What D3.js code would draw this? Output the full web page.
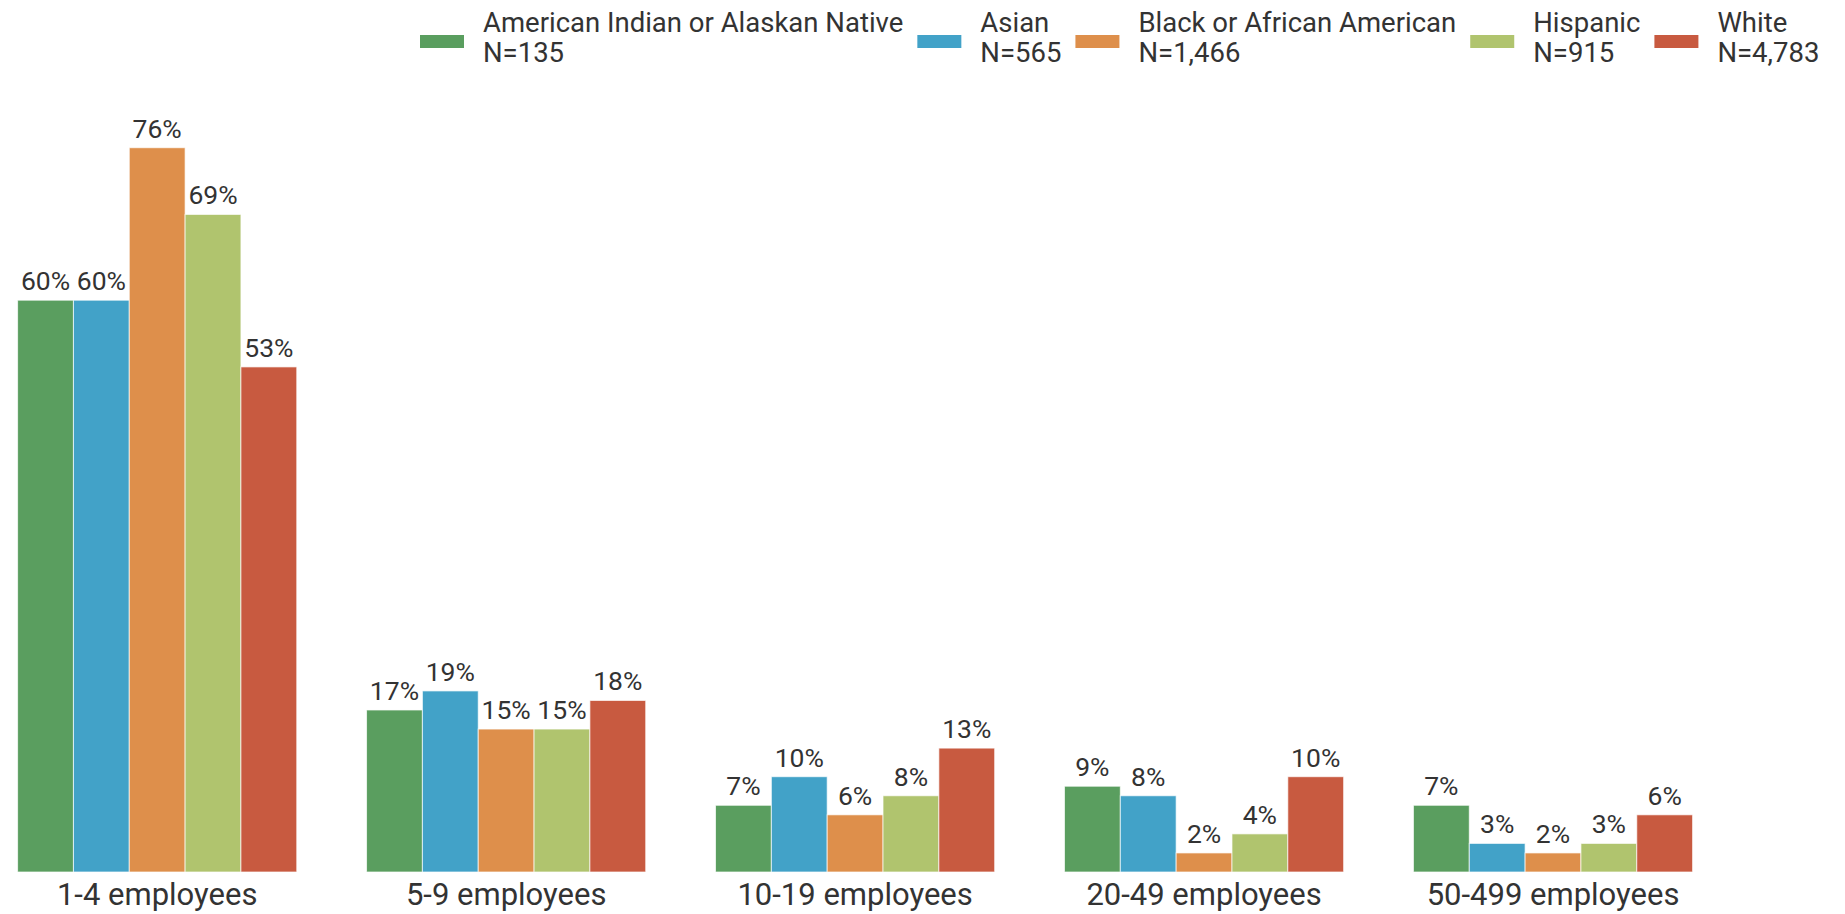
<!DOCTYPE html>
<html>
<head>
<meta charset="utf-8">
<script src="https://cdn.jsdelivr.net/npm/d3@7"></script>
<style>
  body { margin: 0; background: #fff; }
  text { font-family: Roboto, "Noto Sans", sans-serif; fill: #333; }
</style>
</head>
<body>
<div id="chart"></div>
<script>
// Data
let sizes = ['1-4 employees', '5-9 employees', '10-19 employees', '20-49 employees', '50-499 employees'];
let groups = ['American Indian or Alaskan Native', 'Asian', 'Black or African American', 'Hispanic', 'White'];
let groupN = ['N=135', 'N=565', 'N=1,466', 'N=915', 'N=4,783'];
let colors = ['#5a9e5f', '#42a2c8', '#de8f4b', '#b0c46e', '#c85a40'];

// percent by group, one value per employee size
let amIndian = [60, 17, 7, 9, 7];
let asian    = [60, 19, 10, 8, 3];
let black    = [76, 15, 6, 2, 2];
let hispanic = [69, 15, 8, 4, 3];
let white    = [53, 18, 13, 10, 6];
let values = [amIndian, asian, black, hispanic, white];

let width = 1845, height = 914;
let baseline = 872;

let svg = d3.select("#chart")
  .append("svg")
  .attr("width", width)
  .attr("height", height);

// Scales
let x0 = d3.scaleBand()
  .domain(sizes)
  .range([17.6, 1692.6])
  .paddingInner(0.2)
  .paddingOuter(0);

let x1 = d3.scaleBand()
  .domain(groups)
  .range([0, x0.bandwidth()])
  .padding(0);

let y = d3.scaleLinear()
  .domain([0, 80])
  .range([baseline, baseline - 80 * 9.53]);

let color = d3.scaleOrdinal().domain(groups).range(colors);

// rows for drawing
let rows = sizes.map((s, i) => ({
  size: s,
  bars: groups.map((g, j) => ({ group: g, value: values[j][i] }))
}));

let grp = svg.append("g")
  .attr("class", "bars")
  .selectAll("g")
  .data(rows)
  .join("g")
  .attr("transform", d => "translate(" + x0(d.size) + ",0)");

grp.selectAll("rect")
  .data(d => d.bars)
  .join("rect")
  .attr("x", d => x1(d.group))
  .attr("y", d => y(d.value))
  .attr("width", x1.bandwidth())
  .attr("height", d => y(0) - y(d.value))
  .attr("fill", d => color(d.group))
  .attr("stroke", "#fff")
  .attr("stroke-opacity", 0.7)
  .attr("stroke-width", 1);

grp.selectAll("text")
  .data(d => d.bars)
  .join("text")
  .attr("x", d => x1(d.group) + x1.bandwidth() / 2)
  .attr("y", d => y(d.value) - 10)
  .attr("text-anchor", "middle")
  .style("font-size", "26.5px")
  .text(d => d.value + "%");

// x-axis
let xAxis = d3.axisBottom(x0)
  .tickSize(0)
  .tickPadding(11);

let xAxisEl = svg.append("g")
  .attr("class", "x axis")
  .attr("transform", "translate(0," + baseline + ")")
  .call(xAxis);
xAxisEl.select(".domain").remove();
xAxisEl.selectAll("text")
  .attr("fill", "#333")
  .style("font-size", "31px")
  .style("font-family", "Roboto, sans-serif");

// Legend
let legend = svg.append("g").attr("class", "legend");
let lx = 420;
groups.forEach((g, i) => {
  let item = legend.append("g").attr("transform", "translate(" + lx + ",0)");
  item.append("rect")
    .attr("x", 0)
    .attr("y", 35)
    .attr("width", 44)
    .attr("height", 13)
    .attr("fill", colors[i]);
  let t = item.append("text")
    .attr("x", 63)
    .attr("y", 32)
    .style("font-size", "27.5px");
  t.append("tspan").attr("x", 63).text(g);
  t.append("tspan").attr("x", 63).attr("dy", 30).text(groupN[i]);
  let w = t.node().getBBox().width;
  lx += 63 + w + 14;
});
</script>
</body>
</html>
